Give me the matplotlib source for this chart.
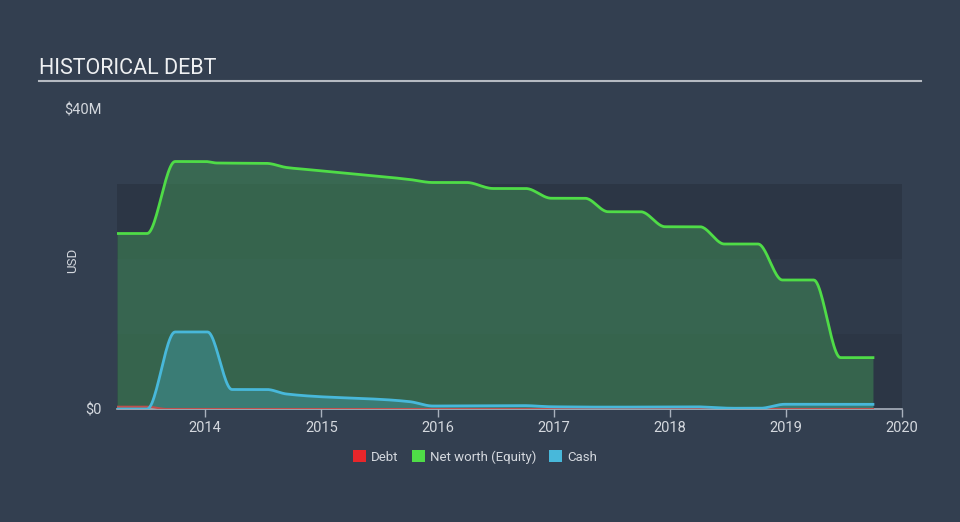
import matplotlib
matplotlib.use("Agg")
import matplotlib.pyplot as plt
from matplotlib.patches import Patch, Rectangle
import numpy as np

# ---- data (USD millions) ----
nw_t = [2013.24, 2013.50, 2013.74, 2014.00, 2014.10, 2014.53, 2014.70, 2014.90,
        2015.76, 2015.96, 2016.25, 2016.48, 2016.76, 2016.98, 2017.27, 2017.47,
        2017.75, 2017.96, 2018.26, 2018.47, 2018.76, 2018.97, 2019.24, 2019.47, 2019.75]
nw_v = [23.4, 23.4, 33.0, 33.0, 32.8, 32.75, 32.2, 31.9,
        30.6, 30.2, 30.2, 29.4, 29.4, 28.1, 28.1, 26.3,
        26.3, 24.3, 24.3, 22.0, 22.0, 17.2, 17.2, 6.85, 6.85]

cash_t = [2013.24, 2013.50, 2013.74, 2014.02, 2014.23, 2014.53, 2014.70, 2015.76,
          2015.96, 2016.75, 2016.98, 2017.5, 2018.2, 2018.55, 2018.78, 2018.99, 2019.75]
cash_v = [0.0, 0.0, 10.27, 10.27, 2.6, 2.6, 2.0, 0.98,
          0.4, 0.45, 0.3, 0.25, 0.3, 0.1, 0.1, 0.63, 0.62]

debt_t = [2013.24, 2013.50, 2013.67, 2019.75]
debt_v = [0.3, 0.3, 0.0, 0.0]

years = [2014, 2015, 2016, 2017, 2018, 2019, 2020]
y_ticks = [0, 40]
y_labels = ["$0", "$40M"]

# ---- style ----
BG = "#333f50"
BAND_A = "#2c3645"
BAND_B = "#2f3a4a"
GREEN = "#4fdc47"
CYAN = "#48b8da"
RED = "#e8262a"
TXT = "#d4d8de"


def smooth(t, v, n=24):
    """Monotone cubic (Fritsch-Carlson) rendering of the read points."""
    t = np.asarray(t, float)
    v = np.asarray(v, float)
    h = np.diff(t)
    d = np.diff(v) / h
    m = np.zeros_like(v)
    m[0], m[-1] = d[0], d[-1]
    for i in range(1, len(v) - 1):
        if d[i - 1] * d[i] <= 0:
            m[i] = 0.0
        else:
            w1 = 2 * h[i] + h[i - 1]
            w2 = h[i] + 2 * h[i - 1]
            m[i] = (w1 + w2) / (w1 / d[i - 1] + w2 / d[i])
    xs, ys = [], []
    for i in range(len(v) - 1):
        s = np.linspace(0, 1, n, endpoint=False)
        h00 = 2 * s**3 - 3 * s**2 + 1
        h10 = s**3 - 2 * s**2 + s
        h01 = -2 * s**3 + 3 * s**2
        h11 = s**3 - s**2
        xs.append(t[i] + s * h[i])
        ys.append(h00 * v[i] + h10 * h[i] * m[i] + h01 * v[i + 1] + h11 * h[i] * m[i + 1])
    xs.append([t[-1]])
    ys.append([v[-1]])
    return np.concatenate(xs), np.concatenate(ys)


plt.rcParams["font.family"] = ["Roboto", "DejaVu Sans"]

fig = plt.figure(figsize=(9.6, 5.22), dpi=100, facecolor=BG)
ax = fig.add_axes([117/960, 113/522, 785/960, 300/522])
ax.set_facecolor(BG)
ax.set_xlim(2013.24, 2020.0)
ax.set_ylim(0, 40)

# background bands
for i, c in enumerate([BAND_A, BAND_B, BAND_A]):
    ax.add_patch(Rectangle((2013.24, i*10), 2020.0-2013.24, 10, facecolor=c,
                           edgecolor="none", zorder=0))

nx, ny = smooth(nw_t, nw_v)
cx, cy = smooth(cash_t, cash_v)
dx, dy = smooth(debt_t, debt_v)

ax.fill_between(nx, ny, 0, color="#3f8a55", alpha=0.55, lw=0, zorder=1)
ax.fill_between(cx, cy, 0, color="#3f9aa6", alpha=0.45, lw=0, zorder=2)
ax.fill_between(dx, dy, 0, color=RED, alpha=0.35, lw=0, zorder=2)
ax.plot(nx, ny, color=GREEN, lw=2, zorder=4, solid_joinstyle="round")
ax.plot(cx, cy, color=CYAN, lw=2, zorder=4, solid_joinstyle="round")
ax.plot(dx, dy, color="#c0504d", lw=1.5, zorder=3)

for s in ["top", "right", "left"]:
    ax.spines[s].set_visible(False)
ax.spines["bottom"].set_color("#a9b1bd")
ax.spines["bottom"].set_linewidth(1.2)

ax.set_xticks(years)
ax.set_xticklabels([str(y) for y in years])
ax.tick_params(axis="x", colors="#a9b1bd", labelcolor=TXT, labelsize=10.5,
               length=6, width=1, pad=3)
ax.set_yticks(y_ticks)
ax.set_yticklabels(y_labels)
ax.tick_params(axis="y", length=0, labelcolor=TXT, labelsize=10.5, pad=11)

fig.text(73/960, 1-260/522, "USD", color=TXT, fontsize=9.5, rotation=90,
         ha="center", va="center")

# title
fig.text(39/960, 1-69/522, "HISTORICAL DEBT", color="#eef0f2", fontsize=15.5,
         va="center", ha="left")
fig.add_artist(plt.Line2D([39/960, 921/960], [1-81/522, 1-81/522],
                          color="#b5bac2", lw=1.5))

handles = [Patch(facecolor=RED, label="Debt"),
           Patch(facecolor=GREEN, label="Net worth (Equity)"),
           Patch(facecolor=CYAN, label="Cash")]
leg = fig.legend(handles=handles, loc="center", bbox_to_anchor=(475/960, 1-457/522),
                 ncol=3, frameon=False, fontsize=9.5, handlelength=1.0,
                 handleheight=1.0, handletextpad=0.35, columnspacing=1.0)
for t in leg.get_texts():
    t.set_color(TXT)

fig.savefig("out.png", dpi=100, facecolor=BG)
